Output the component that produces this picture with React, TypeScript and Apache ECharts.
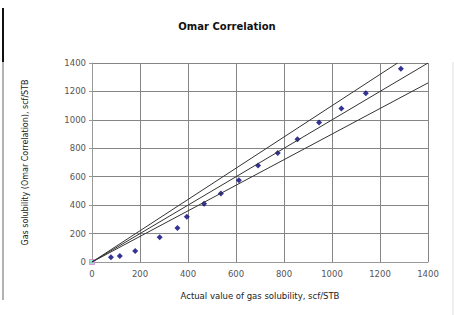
import React, { useEffect, useRef } from "react";
import * as echarts from "echarts";

const actual = [79, 116, 180, 282, 356, 395, 467, 537, 612, 692, 774, 856, 946, 1039, 1141, 1287];
const predicted = [33, 42, 78, 175, 240, 318, 409, 482, 576, 679, 766, 863, 981, 1080, 1188, 1360];
const upperLine = [[0, 0], [1273, 1400]];
const equalLine = [[0, 0], [1400, 1400]];
const lowerLine = [[0, 0], [1400, 1260]];
const originPoint = [[0, 0]];

const FONT = "DejaVu Sans";
const plain = (v: number) => String(v);

export default function App() {
  const ref = useRef<HTMLDivElement>(null);
  useEffect(() => {
    if (!ref.current) return;
    const chart = echarts.init(ref.current, null, { renderer: "svg" });
    const points = actual.map((x, i) => [x, predicted[i]]);
    const lineStyle = { color: "#333", width: 1 };
    chart.setOption({
      animation: false,
      backgroundColor: "#fff",
      title: {
        text: "Omar Correlation",
        left: 222,
        top: 16,
        textAlign: "center",
        textStyle: { fontFamily: FONT, fontSize: 10, fontWeight: "bold", color: "#111" },
      },
      grid: { left: 92, right: 26, top: 63, bottom: 53, containLabel: false },
      xAxis: {
        type: "value",
        min: 0,
        max: 1400,
        interval: 200,
        name: "Actual value of gas solubility, scf/STB",
        nameLocation: "middle",
        nameGap: 29,
        nameTextStyle: { fontFamily: FONT, fontSize: 8.5, color: "#222" },
        axisLine: { show: true, lineStyle: { color: "#999", width: 1 } },
        axisTick: { show: false },
        axisLabel: { fontFamily: FONT, fontSize: 8.5, color: "#555", margin: 7, formatter: plain },
        splitLine: { show: true, lineStyle: { color: "#858585", width: 1 } },
      },
      yAxis: {
        type: "value",
        min: 0,
        max: 1400,
        interval: 200,
        name: "Gas solubility (Omar Correlation), scf/STB",
        nameLocation: "middle",
        nameGap: 63,
        nameTextStyle: { fontFamily: FONT, fontSize: 8, color: "#222" },
        axisLine: { show: true, lineStyle: { color: "#999", width: 1 } },
        axisTick: { show: true, length: 3, lineStyle: { color: "#999" } },
        axisLabel: { fontFamily: FONT, fontSize: 8.5, color: "#555", margin: 6, formatter: plain },
        splitLine: { show: true, lineStyle: { color: "#858585", width: 1 } },
      },
      series: [
        { type: "line", data: upperLine, symbol: "none", lineStyle, silent: true },
        { type: "line", data: equalLine, symbol: "none", lineStyle, silent: true },
        { type: "line", data: lowerLine, symbol: "none", lineStyle, silent: true },
        {
          type: "scatter",
          data: points,
          symbol: "diamond",
          symbolSize: 6,
          itemStyle: { color: "#00007a" },
        },
        {
          type: "scatter",
          data: originPoint,
          symbol: "rect",
          symbolSize: 5,
          itemStyle: { color: "#7fe0c8", borderColor: "#e07ee0", borderWidth: 1 },
        },
      ],
      graphic: [
        { type: "line", shape: { x1: 3, y1: 60, x2: 3, y2: 300 }, style: { stroke: "#999", lineWidth: 1.5 } },
        { type: "line", shape: { x1: 3, y1: 8, x2: 3, y2: 62 }, style: { stroke: "#111", lineWidth: 2 } },
        { type: "line", shape: { x1: 453, y1: 62, x2: 453, y2: 315 }, style: { stroke: "#ddd", lineWidth: 1 } },
      ],
    });
    return () => chart.dispose();
  }, []);
  return (
    <div
      ref={ref}
      style={{ position: "absolute", left: 0, top: 0, width: 454, height: 315 }}
    />
  );
}
